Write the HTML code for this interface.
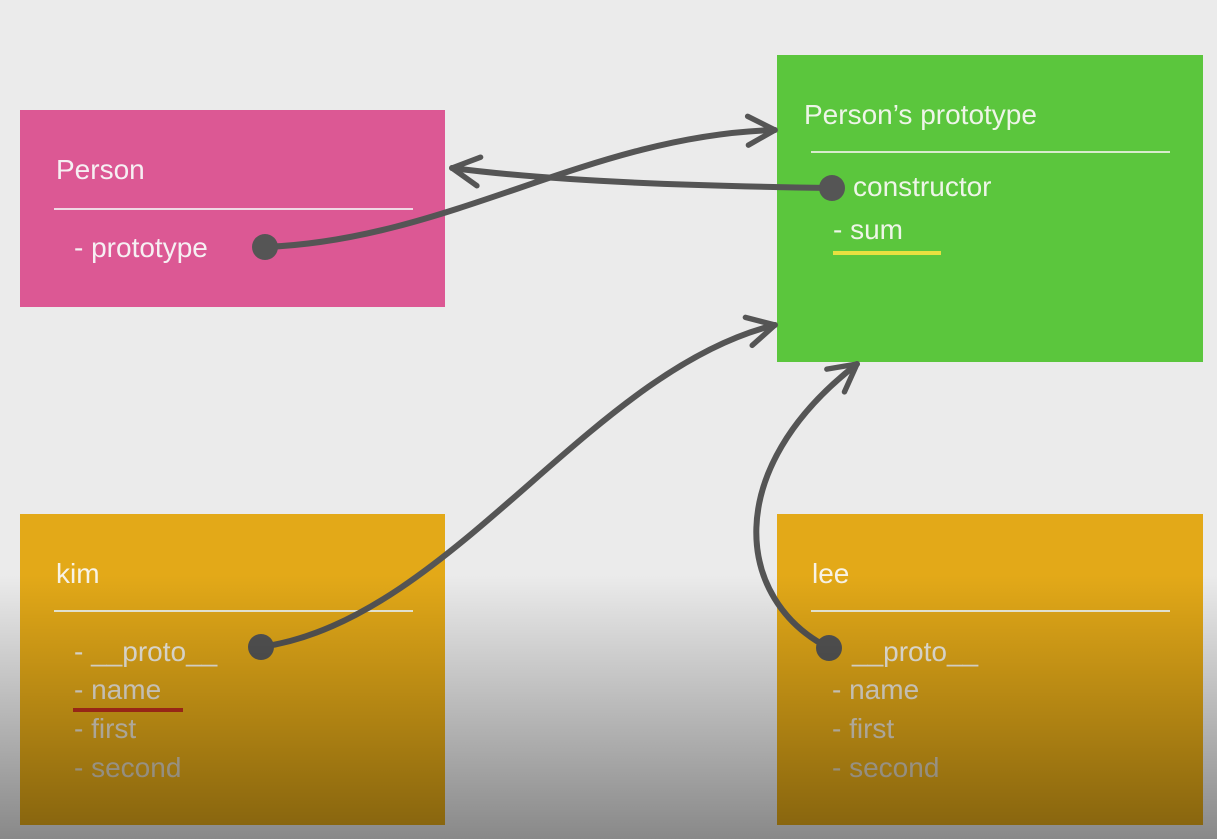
<!DOCTYPE html>
<html><head><meta charset="utf-8"><style>
body{margin:0;width:1217px;height:839px;overflow:hidden;background:#ebebeb;font-family:"Liberation Sans",sans-serif;position:relative}
.b{position:absolute;color:#f3f3f0}
.t{position:absolute;font-size:28px;line-height:1;white-space:nowrap}
.l{position:absolute;height:2px;background:#eeeeda}
#ov{position:absolute;left:0;top:0;width:1217px;height:839px;background:linear-gradient(to bottom,rgba(0,0,0,0) 0,rgba(0,0,0,0) 575px,rgba(0,0,0,0.42) 839px);pointer-events:none}
</style></head><body>
<div class="b" style="left:20px;top:110px;width:425px;height:197px;background:#dc5894"></div>
<div class="b" style="left:777px;top:55px;width:426px;height:307px;background:#5bc63d"></div>
<div class="b" style="left:20px;top:514px;width:425px;height:311px;background:#e3a918"></div>
<div class="b" style="left:777px;top:514px;width:426px;height:311px;background:#e3a918"></div>

<div class="t" style="left:56px;top:156px;color:#f6f0f3">Person</div>
<div class="l" style="left:54px;top:208px;width:359px;background:#f0d8e4"></div>
<div class="t" style="left:74px;top:234px;color:#f6f0f3">- prototype</div>

<div class="t" style="left:804px;top:101px;color:#eef5e8">Person’s prototype</div>
<div class="l" style="left:811px;top:151px;width:359px;background:#d8eccc"></div>
<div class="t" style="left:853px;top:173px;color:#eef5e8">constructor</div>
<div class="t" style="left:833px;top:216px;color:#eef5e8">- sum</div>
<div style="position:absolute;left:833px;top:251px;width:108px;height:4px;background:#e8e040"></div>

<div class="t" style="left:56px;top:560px;color:#f8f3e6">kim</div>
<div class="l" style="left:54px;top:610px;width:359px"></div>
<div class="t" style="left:74px;top:638px;color:#f3efe4">- __proto__</div>
<div class="t" style="left:74px;top:676px;color:#efe9dc">- name</div>
<div style="position:absolute;left:73px;top:708px;width:110px;height:4px;background:#c0301c"></div>
<div class="t" style="left:74px;top:715px;color:#e4dccb">- first</div>
<div class="t" style="left:74px;top:754px;color:#d8cfbb">- second</div>

<div class="t" style="left:812px;top:560px;color:#f8f3e6">lee</div>
<div class="l" style="left:811px;top:610px;width:359px"></div>
<div class="t" style="left:852px;top:638px;color:#f3efe4">__proto__</div>
<div class="t" style="left:832px;top:676px;color:#efe9dc">- name</div>
<div class="t" style="left:832px;top:715px;color:#e4dccb">- first</div>
<div class="t" style="left:832px;top:754px;color:#d8cfbb">- second</div>

<svg style="position:absolute;left:0;top:0" width="1217" height="839">
<defs><marker id="a" viewBox="0 0 20 20" refX="18" refY="10" markerWidth="6" markerHeight="6" markerUnits="strokeWidth" orient="auto"><path d="M3,2 L18,10 L3,18" fill="none" stroke="#555" stroke-width="3" stroke-linecap="round" stroke-linejoin="round"/></marker></defs>
<g fill="none" stroke="#555" stroke-width="6" stroke-linecap="round">
<path d="M265,247 C450,240 590,135 775,130" marker-end="url(#a)"/>
<path d="M832,188 C700,186 560,182 452,168" marker-end="url(#a)"/>
<path d="M261,647 C450,620 590,370 775,325" marker-end="url(#a)"/>
<path d="M829,648 C735,600 720,470 857,364" marker-end="url(#a)"/>
</g>
<g fill="#555"><circle cx="265" cy="247" r="13"/><circle cx="832" cy="188" r="13"/><circle cx="261" cy="647" r="13"/><circle cx="829" cy="648" r="13"/></g>
</svg>
<div id="ov"></div>
</body></html>
